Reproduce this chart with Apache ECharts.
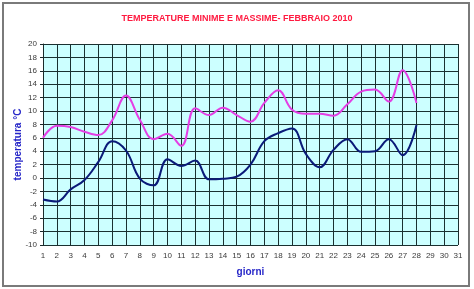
<!DOCTYPE html>
<html>
<head>
<meta charset="utf-8">
<script src="https://cdn.jsdelivr.net/npm/echarts@6/dist/echarts.min.js"></script>
<style>
  html, body { margin: 0; padding: 0; background: #fff; }
  #chart { width: 474px; height: 289px; }
</style>
</head>
<body>
<div id="chart"></div>
<script>
// giorni di febbraio (asse x fino a 31)
const days = Array.from({ length: 31 }, (_, i) => String(i + 1))

// temperature
const tMax = [6.0, 7.8, 7.6, 6.9, 6.4, 8.6, 12.3, 8.7, 5.8, 6.6, 4.8, 10.4, 9.4, 10.5,
  9.4, 8.4, 11.2, 13.1, 10.2, 9.6, 9.6, 9.3, 11.0, 12.9, 13.2, 11.4, 16.1, 11.2]
const tMin = [-3.2, -3.5, -1.7, -0.3, 2.4, 5.5, 4.1, -0.1, -1.1, 2.8, 1.8, 2.6, -0.2, -0.1,
  0.2, 2.0, 5.5, 6.7, 7.4, 3.6, 1.6, 4.2, 5.8, 3.9, 4.0, 5.8, 3.4, 7.9]

const chart = echarts.init(document.getElementById('chart'))

const option = {
  animation: false,
  title: {
    text: 'TEMPERATURE MINIME E MASSIME- FEBBRAIO 2010',
    left: 'center',
    top: 9,
    textStyle: { color: '#ff1a40', fontSize: 9, fontWeight: 'bold', fontFamily: 'Liberation Sans' }
  },
  graphic: [
    {
      type: 'rect',
      shape: { x: 3, y: 3, width: 466, height: 283 },
      style: { fill: 'none', stroke: '#7a7a7a', lineWidth: 2 },
      silent: true
    }
  ],
  grid: {
    left: 43,
    right: 16,
    top: 44,
    bottom: 44,
    show: true,
    backgroundColor: '#ccffff',
    borderWidth: 0
  },
  xAxis: {
    type: 'category',
    data: days,
    boundaryGap: false,
    name: 'giorni',
    nameLocation: 'middle',
    nameGap: 22,
    nameMoveOverlap: false,
    nameTextStyle: { color: '#2626c8', fontWeight: 'bold', fontSize: 10, fontFamily: 'Liberation Sans' },
    axisLine: { lineStyle: { color: '#1a2a2a' } },
    axisTick: { show: false },
    axisLabel: { interval: 0, color: '#3a3a3a', fontSize: 8, margin: 7, fontFamily: 'Liberation Sans' },
    splitLine: { show: true, interval: 0, lineStyle: { color: '#1a3030', width: 1 } }
  },
  yAxis: {
    type: 'value',
    min: -10,
    max: 20,
    interval: 2,
    name: 'temperatura °C',
    nameLocation: 'middle',
    nameGap: 20,
    nameMoveOverlap: false,
    nameTextStyle: { color: '#2626c8', fontWeight: 'bold', fontSize: 10, fontFamily: 'Liberation Sans' },
    axisLine: { show: true, lineStyle: { color: '#1a2a2a' } },
    axisTick: { show: true, length: 3, lineStyle: { color: '#1a2a2a' } },
    axisLabel: { color: '#3a3a3a', fontSize: 8, margin: 6, fontFamily: 'Liberation Sans' },
    splitLine: { show: true, lineStyle: { color: '#1a3030', width: 1 } }
  },
  series: [
    {
      name: 'massime',
      type: 'line',
      data: tMax,
      smooth: 0.4,
      symbol: 'none',
      lineStyle: { color: '#e43ee4', width: 2 }
    },
    {
      name: 'minime',
      type: 'line',
      data: tMin,
      smooth: 0.4,
      symbol: 'none',
      lineStyle: { color: '#0a1a78', width: 2 }
    }
  ]
}

chart.setOption(option)
</script>
</body>
</html>
